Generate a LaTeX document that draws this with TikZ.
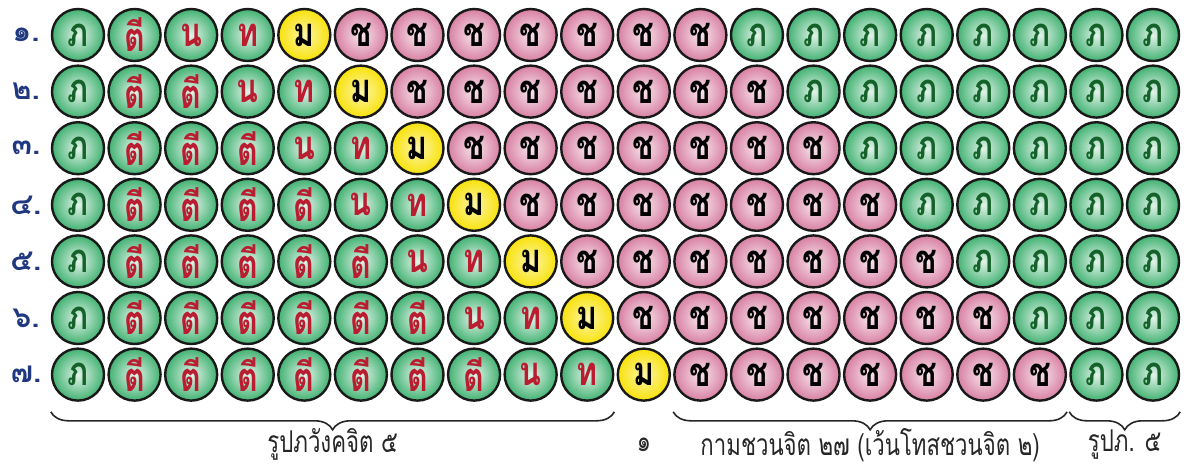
\documentclass[tikz,border=0pt]{standalone}
\usepackage{fontspec}
\newfontfamily\thaifont[Script=Thai]{Loma}
\newfontfamily\thaicond[Script=Thai, FakeStretch=0.8]{Loma}
\newfontfamily\thainarrow[Script=Thai, FakeStretch=0.74]{Loma}
\definecolor{vithiGreen}{RGB}{66,178,114}
\definecolor{vithiPink}{RGB}{216,128,162}
\definecolor{vithiYellow}{RGB}{248,226,10}
\definecolor{vithiDkGreen}{RGB}{20,98,42}
\definecolor{vithiRed}{RGB}{186,28,48}
\definecolor{vithiBlue}{RGB}{32,56,128}
\usetikzlibrary{decorations.pathreplacing,calc}

\begin{document}
\begin{tikzpicture}[x=0.5pt, y=-0.5pt,
    cell/.style={circle, draw=black!90, line width=1.2pt, minimum size=26pt,
                 inner sep=0pt, shading=radial,
                 font=\thaicond\bfseries\fontsize{20}{20}\selectfont},
    bhav/.style={inner color=vithiGreen!15!white, outer color=vithiGreen, text=vithiDkGreen},
    tiri/.style={inner color=vithiGreen!15!white, outer color=vithiGreen, text=vithiRed},
    mano/.style={inner color=vithiYellow!35!white, outer color=vithiYellow, text=black},
    java/.style={inner color=vithiPink!20!white, outer color=vithiPink, text=black},
    lab/.style={font=\thaifont\bfseries\fontsize{15}{15}\selectfont, text=vithiBlue},
    brace/.style={decorate, decoration={brace, mirror, amplitude=9pt},
                  line width=0.8pt, draw=black!85},
    sumtxt/.style={font=\thainarrow\fontsize{15}{15}\selectfont, text=black!85,
                   inner sep=1pt}
  ]
  \useasboundingbox (0,0) rectangle (1188,468);
  \def\xx{56.58}
  \def\yy{56.6}
  \foreach \r/\num in {1/๑,2/๒,3/๓,4/๔,5/๕,6/๖,7/๗}{
    \node[lab] (lab\r) at (26, 35+\r*\yy-\yy) {\num.};
    \pgfmathtruncatemacro\nc{\r+2}
    \pgfmathtruncatemacro\tc{\r+3}
    \pgfmathtruncatemacro\mc{\r+4}
    \pgfmathtruncatemacro\bc{\r+12}
    \foreach \k in {1,...,20}{
      \def\kind{bhav}\def\sym{ภ}
      \ifnum\k>1 \ifnum\k<\nc \def\kind{tiri}\def\sym{ตี}\fi\fi
      \ifnum\k=\nc \def\kind{tiri}\def\sym{น}\fi
      \ifnum\k=\tc \def\kind{tiri}\def\sym{ท}\fi
      \ifnum\k=\mc \def\kind{mano}\def\sym{ม}\fi
      \ifnum\k>\mc \ifnum\k<\bc \def\kind{java}\def\sym{ช}\fi\fi
      \node[cell, \kind] (c\r-\k) at (78+\k*\xx-\xx, 35+\r*\yy-\yy) {\sym};
    }
  }

  % braces under the last row
  \coordinate (b1s) at ($(c7-1.west |- c7-1.south)+(0,10)$);
  \coordinate (b1e) at ($(c7-10.east |- c7-10.south)+(0,10)$);
  \coordinate (b2s) at ($(c7-12.west |- c7-12.south)+(0,10)$);
  \coordinate (b2e) at ($(c7-18.east |- c7-18.south)+(0,10)$);
  \coordinate (b3s) at ($(c7-19.west |- c7-19.south)+(0,10)$);
  \coordinate (b3e) at ($(c7-20.east |- c7-20.south)+(0,10)$);
  \draw[brace] (b1s) -- (b1e);
  \draw[brace] (b2s) -- (b2e);
  \draw[brace] (b3s) -- (b3e);

  \node[sumtxt] (s1) at ($(b1s)!.5!(b1e)+(0,33)$) {รูปภวังคจิต ๕};
  \node[sumtxt] (s0) at (c7-11 |- s1) {๑};
  \node[sumtxt] (s2) at ($(b2s)!.5!(b2e)+(0,33)$) {กามชวนจิต ๒๗ (เว้นโทสชวนจิต ๒)};
  \node[sumtxt] (s3) at ($(b3s)!.5!(b3e)+(0,33)$) {รูปภ. ๕};
\end{tikzpicture}
\end{document}
